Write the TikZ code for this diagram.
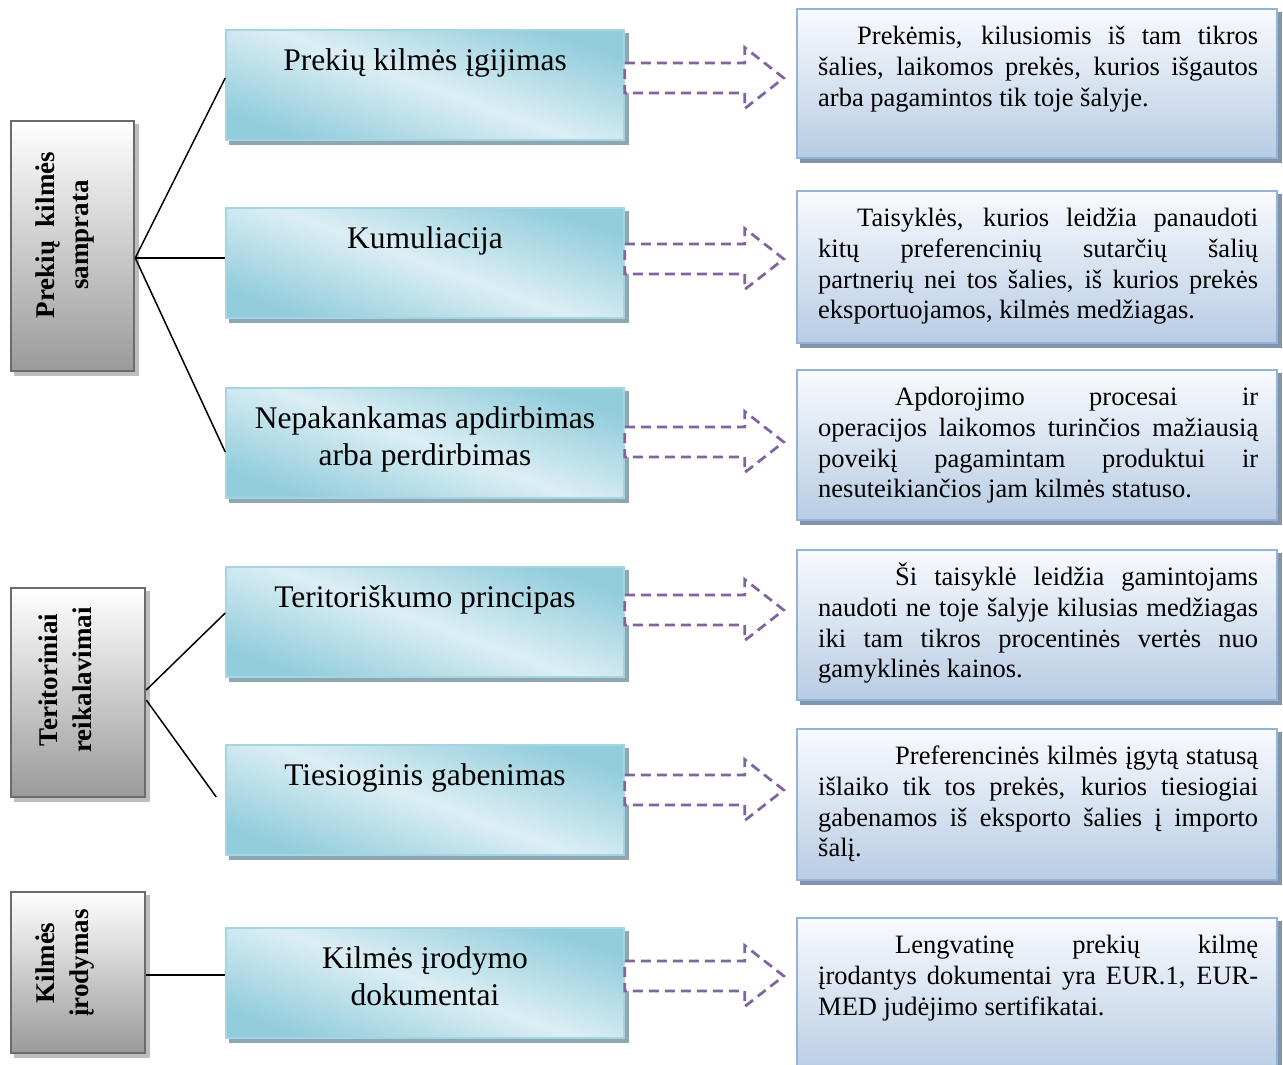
\documentclass[tikz,border=0pt]{standalone}
\usepackage{fontspec}
\setmainfont{Liberation Serif}
\usetikzlibrary{backgrounds}
\definecolor{midD}{HTML}{92CDDC}
\definecolor{midL}{HTML}{DCEEF4}
\definecolor{midB}{HTML}{A5D5E2}
\definecolor{midS}{HTML}{8FA7B0}
\definecolor{rgtT}{HTML}{F8FAFD}
\definecolor{rgtB}{HTML}{B8CCE4}
\definecolor{rgtE}{HTML}{95B3D7}
\definecolor{rgtS}{HTML}{8293AC}
\definecolor{gryB}{HTML}{9A9A9A}
\definecolor{gryE}{HTML}{6B6B6B}
\definecolor{gryS}{HTML}{BDBDBD}
\definecolor{arrC}{HTML}{8064A2}
\newcommand\JLine[1]{\makebox[\linewidth][s]{#1}\\}
\begin{document}
\begin{tikzpicture}[x=1pt,y=-1pt,
  greybox/.style={draw=gryE, line width=2.5pt, top color=white, bottom color=gryB, inner sep=0pt},
  midbox/.style={draw=midB, line width=1.5pt, top color=midD, bottom color=midD, middle color=midL, shading angle=-20, minimum width=398pt, minimum height=110pt, inner sep=0pt},
  rgtbox/.style={draw=rgtE, line width=2pt, top color=rgtT, bottom color=rgtB, minimum width=480pt, inner sep=0pt},
  sidetext/.style={rotate=90, align=center, font=\bfseries\fontsize{27}{34}\selectfont, inner sep=0pt},
  midtext/.style={anchor=north, align=center, font=\fontsize{31.5}{37}\selectfont, inner sep=0pt},
  rgttext/.style={anchor=base west, inner sep=0pt, font=\fontsize{26.5}{30.8}\selectfont},
  link/.style={line width=1.5pt, black},
  darrow/.style={draw=arrC, line width=2.75pt, dash pattern=on 10pt off 6pt, fill=white, line join=miter}
]
\useasboundingbox (0,0) rectangle (1283,1065);

% left grey boxes
\node[greybox, minimum width=123pt, minimum height=250pt] (g1) at (72.5,246) {};
\node[sidetext] (g1t) at (65,235) {Prekių\ \ kilmės\\samprata};
\node[greybox, minimum width=134pt, minimum height=209pt] (g2) at (78,692.5) {};
\node[sidetext] (g2t) at (65,680) {Teritoriniai\\reikalavimai};
\node[greybox, minimum width=134pt, minimum height=161pt] (g3) at (78,972.5) {};
\node[sidetext] (g3t) at (65,963) {Kilmės\\įrodymas};

% middle boxes
\node[midbox] (m1) at (425,85) {};
\node[midtext] (t1) at (425,48.5) {Prekių kilmės įgijimas};
\node[midbox] (m2) at (425,263) {};
\node[midtext] (t2) at (425,226.5) {Kumuliacija};
\node[midbox] (m3) at (425,443) {};
\node[midtext] (t3) at (425,406.5) {Nepakankamas apdirbimas\\arba perdirbimas};
\node[midbox] (m4) at (425,622) {};
\node[midtext] (t4) at (425,585.5) {Teritoriškumo principas};
\node[midbox] (m5) at (425,800) {};
\node[midtext] (t5) at (425,763.5) {Tiesioginis gabenimas};
\node[midbox] (m6) at (425,983) {};
\node[midtext] (t6) at (425,946.5) {Kilmės įrodymo\\dokumentai};

% right boxes
\node[rgtbox, minimum height=149pt] (r1) at (1037,83.5) {};
\node[rgtbox, minimum height=152pt] (r2) at (1037,267) {};
\node[rgtbox, minimum height=150pt] (r3) at (1037,445) {};
\node[rgtbox, minimum height=150pt] (r4) at (1037,625) {};
\node[rgtbox, minimum height=151pt] (r5) at (1037,804.5) {};
\node[rgtbox, minimum height=157pt] (r6) at (1037,996.5) {};

\node[rgttext] (x1) at (818,44.5) {\begin{minipage}[t]{440pt}\noindent
\JLine{\hspace*{39pt}Prekėmis, kilusiomis iš tam tikros}\JLine{šalies, laikomos prekės, kurios išgautos}arba pagamintos tik toje šalyje.\end{minipage}};
\node[rgttext] (x2) at (818,226.5) {\begin{minipage}[t]{440pt}\noindent
\JLine{\hspace*{39pt}Taisyklės, kurios leidžia panaudoti}\JLine{kitų preferencinių sutarčių šalių}\JLine{partnerių nei tos šalies, iš kurios prekės}eksportuojamos, kilmės medžiagas.\end{minipage}};
\node[rgttext] (x3) at (818,405.5) {\begin{minipage}[t]{440pt}\noindent
\JLine{\hspace*{77pt}Apdorojimo procesai ir}\JLine{operacijos laikomos turinčios mažiausią}\JLine{poveikį pagamintam produktui ir}nesuteikiančios jam kilmės statuso.\end{minipage}};
\node[rgttext] (x4) at (818,585.5) {\begin{minipage}[t]{440pt}\noindent
\JLine{\hspace*{77pt}Ši taisyklė leidžia gamintojams}\JLine{naudoti ne toje šalyje kilusias medžiagas}\JLine{iki tam tikros procentinės vertės nuo}gamyklinės kainos.\end{minipage}};
\node[rgttext] (x5) at (818,764.5) {\begin{minipage}[t]{440pt}\noindent
\JLine{\hspace*{77pt}Preferencinės kilmės įgytą statusą}\JLine{išlaiko tik tos prekės, kurios tiesiogiai}\JLine{gabenamos iš eksporto šalies į importo}šalį.\end{minipage}};
\node[rgttext] (x6) at (818,953.5) {\begin{minipage}[t]{440pt}\noindent
\JLine{\hspace*{77pt}Lengvatinę prekių kilmę}\JLine{įrodantys dokumentai yra EUR.1, EUR-}MED judėjimo sertifikatai.\end{minipage}};

% shadows
\begin{scope}[on background layer]
\foreach \n/\c in {g1/gryS,g2/gryS,g3/gryS,m1/midS,m2/midS,m3/midS,m4/midS,m5/midS,m6/midS,r1/rgtS,r2/rgtS,r3/rgtS,r4/rgtS,r5/rgtS,r6/rgtS}
  \fill[\c] ([shift={(4pt,-4pt)}]\n.south west) rectangle ([shift={(4pt,-4pt)}]\n.north east);
\end{scope}

% connectors
\draw[link] ([yshift=-12pt]g1.east) -- ([yshift=7pt]m1.west);
\draw[link] ([yshift=-12pt]g1.east) -- ([yshift=5pt]m2.west);
\draw[link] ([yshift=-12pt]g1.east) -- ([yshift=-9pt]m3.west);
\draw[link] ([yshift=2.5pt]g2.east) -- ([yshift=9pt]m4.west);
\draw[link] ([yshift=-7.5pt]g2.east) -- ([xshift=-9pt,yshift=3pt]m5.west);
\draw[link] ([yshift=-2.5pt]g3.east) -- ([yshift=8pt]m6.west);

% dashed block arrows
\foreach \m/\s in {m1/7,m2/4,m3/1,m4/12,m5/10,m6/7}
  \draw[darrow] ([yshift=\s pt]\m.east) ++(0,-15) -- ++(120,0) -- ++(0,-15.5) -- ++(39,30.5) -- ++(-39,30.5) -- ++(0,-15.5) -- ++(-120,0) -- cycle;
\end{tikzpicture}
\end{document}
